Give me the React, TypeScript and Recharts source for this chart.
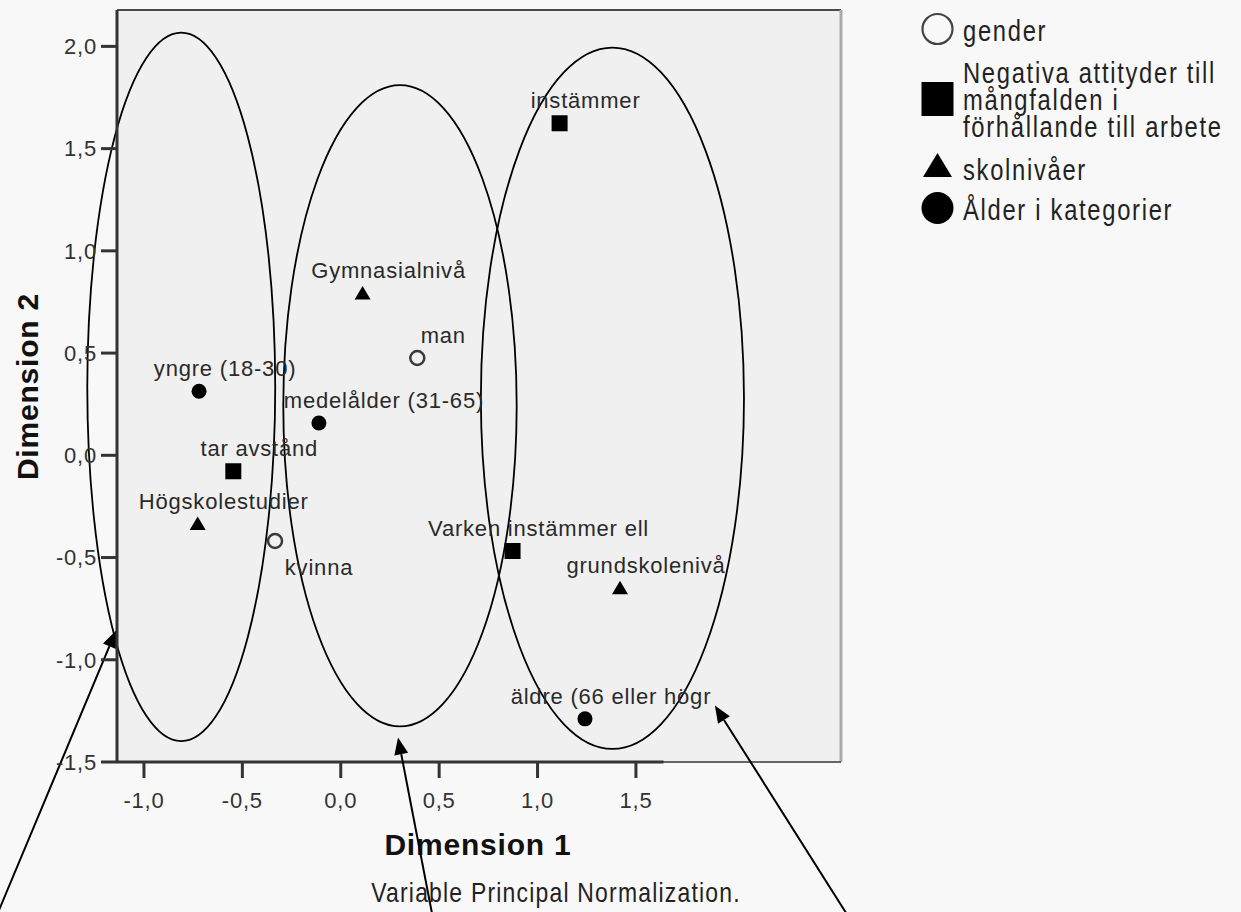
import { ScatterChart, Scatter, XAxis, YAxis, CartesianGrid, ReferenceArea, ReferenceLine } from 'recharts'

// plot window (Dimension 1 / Dimension 2)
const X_MIN = -1.137
const X_MAX = 2.542
const X_AXIS_END = 1.64
const Y_MIN = -1.5
const Y_MAX = 2.178
const X_TICKS = [-1, -0.5, 0, 0.5, 1, 1.5]
const Y_TICKS = [-1.5, -1, -0.5, 0, 0.5, 1, 1.5, 2]

// category points
const genderNames = ['man', 'kvinna']
const genderX = [0.389, -0.334]
const genderY = [0.476, -0.419]

const attitudeNames = ['instämmer', 'tar avstånd', 'Varken instämmer ell']
const attitudeX = [1.112, -0.546, 0.873]
const attitudeY = [1.624, -0.078, -0.468]

const schoolNames = ['Gymnasialnivå', 'Högskolestudier', 'grundskolenivå']
const schoolX = [0.111, -0.727, 1.419]
const schoolY = [0.794, -0.334, -0.648]

const ageNames = ['yngre (18-30)', 'medelålder (31-65)', 'äldre (66 eller högr']
const ageX = [-0.72, -0.111, 1.241]
const ageY = [0.313, 0.158, -1.289]

// hand-drawn group ellipses (bounding boxes in data units)
const ellipseLeft = [-1.288, -0.292, 0.712]
const ellipseRight = [-0.333, 0.894, 2.049]
const ellipseTop = [2.067, 1.811, 1.994]
const ellipseBottom = [-1.398, -1.326, -1.436]

// arrows pointing at the ellipses
const arrowFromX = [-1.742, 0.463, 2.567]
const arrowFromY = [-2.237, -2.237, -2.237]
const arrowToX = [-1.142, 0.291, 1.901]
const arrowToY = [-0.857, -1.38, -1.224]

const legendLabels = [
  ['gender'],
  ['Negativa attityder till', 'mångfalden i', 'förhållande till arbete'],
  ['skolnivåer'],
  ['Ålder i kategorier'],
]

const SANS = '"Liberation Sans", Arial, sans-serif'
// no narrow face installed: squeeze Liberation Sans horizontally instead
const NARROW_SCALE = 0.82

const toPoints = (names: string[], xs: number[], ys: number[]) =>
  names.map((name, i) => ({ name, x: xs[i], y: ys[i] }))

const genderData = toPoints(genderNames, genderX, genderY)
const attitudeData = toPoints(attitudeNames, attitudeX, attitudeY)
const schoolData = toPoints(schoolNames, schoolX, schoolY)
const ageData = toPoints(ageNames, ageX, ageY)

const fmt = (v: number) => v.toFixed(1).replace('.', ',')

const LABEL_SHIFT: Record<string, [number, number]> = {
  kvinna: [44, 34],
  'medelålder (31-65)': [65, -15],
}
const DEFAULT_SHIFT: [number, number] = [26, -15]

function PointLabel({ cx, cy, name }: { cx: number; cy: number; name: string }) {
  const [dx, dy] = LABEL_SHIFT[name] ?? DEFAULT_SHIFT
  return (
    <text x={cx + dx} y={cy + dy} textAnchor="middle" fontFamily={SANS} fontSize={22}
      letterSpacing={0.8} fill="#2a2a2a">
      {name}
    </text>
  )
}

type Kind = 'ring' | 'square' | 'triangle' | 'dot'

function markerShape(kind: Kind) {
  return (p: any) => {
    const { cx, cy, payload } = p
    let m
    if (kind === 'ring') m = <circle cx={cx} cy={cy} r={7} fill="none" stroke="#3a3a3a" strokeWidth={2.5} />
    else if (kind === 'square') m = <rect x={cx - 8} y={cy - 8} width={16} height={16} fill="#000" />
    else if (kind === 'triangle')
      m = <polygon points={`${cx},${cy - 7} ${cx + 8},${cy + 6.5} ${cx - 8},${cy + 6.5}`} fill="#000" />
    else m = <circle cx={cx} cy={cy} r={7.5} fill="#000" />
    return (
      <g>
        {m}
        <PointLabel cx={cx} cy={cy} name={payload.name} />
      </g>
    )
  }
}

function Ring(p: any) {
  const { x, y, width, height } = p
  return (
    <ellipse cx={x + width / 2} cy={y + height / 2} rx={width / 2} ry={height / 2}
      fill="none" stroke="#000" strokeWidth={1.8} />
  )
}

function Arrow(p: any) {
  const { x1, y1, x2, y2 } = p
  const a = Math.atan2(y2 - y1, x2 - x1)
  const len = 17
  const half = 7
  const bx = x2 - len * Math.cos(a)
  const by = y2 - len * Math.sin(a)
  const pts = `${x2},${y2} ${bx + half * Math.sin(a)},${by - half * Math.cos(a)} ${bx - half * Math.sin(a)},${by + half * Math.cos(a)}`
  return (
    <g>
      <line x1={x1} y1={y1} x2={bx} y2={by} stroke="#000" strokeWidth={2} />
      <polygon points={pts} fill="#000" />
    </g>
  )
}

function NarrowText({ x, y, size, spacing, anchor, children }: any) {
  return (
    <text transform={`translate(${x},${y}) scale(${NARROW_SCALE},1)`} textAnchor={anchor ?? 'start'}
      fontFamily={SANS} fontSize={size} letterSpacing={spacing / NARROW_SCALE} fill="#222">
      {children}
    </text>
  )
}

function LegendMarker({ i }: { i: number }) {
  const cx = 937.5
  if (i === 0) return <circle cx={cx} cy={29} r={15} fill="none" stroke="#444" strokeWidth={2.2} />
  if (i === 1) return <rect x={cx - 16} y={82} width={32} height={34} fill="#000" />
  if (i === 2) return <polygon points={`${cx},153 ${cx + 14.5},177 ${cx - 14.5},177`} fill="#000" />
  return <circle cx={cx} cy={208} r={16} fill="#000" />
}

const LEGEND_BASELINES = [[40.5], [83, 110, 137], [180], [220]]

function Annotations() {
  return (
    <svg width={1241} height={912} style={{ position: 'absolute', left: 0, top: 0 }}>
      <text x={478} y={855} textAnchor="middle" fontFamily={SANS} fontWeight="bold" fontSize={30}
        letterSpacing={0.8} fill="#111">
        Dimension 1
      </text>
      <text transform="translate(38,386.5) rotate(-90)" textAnchor="middle" fontFamily={SANS}
        fontWeight="bold" fontSize={30} letterSpacing={0.8} fill="#111">
        Dimension 2
      </text>
      <NarrowText x={556} y={902} size={28} spacing={1.2} anchor="middle">
        Variable Principal Normalization.
      </NarrowText>
      {legendLabels.map((lines, i) => (
        <g key={i}>
          <LegendMarker i={i} />
          {lines.map((line, j) => (
            <NarrowText key={j} x={963} y={LEGEND_BASELINES[i][j]} size={29} spacing={1.7}>
              {line}
            </NarrowText>
          ))}
        </g>
      ))}
    </svg>
  )
}

const tickStyle = { fontSize: 22, fontFamily: SANS, fill: '#333', letterSpacing: 0.8 }

export default function App() {
  return (
    <div style={{ position: 'absolute', left: 0, top: 0, width: 1241, height: 912, background: '#f8f8f8', overflow: 'hidden' }}>
      <Annotations />
      <div style={{ position: 'absolute', left: 0, top: 0 }}>
        <ScatterChart width={1241} height={912} margin={{ top: 10, right: 400, bottom: 90, left: 17 }}>
          <CartesianGrid horizontal={false} vertical={false} fill="#f0f0f0" />
          <XAxis type="number" dataKey="x" domain={[X_MIN, X_MAX]} ticks={X_TICKS} allowDataOverflow
            height={60} interval={0} axisLine={false} tickLine={{ stroke: '#333', strokeWidth: 3 }}
            tickSize={16} tickMargin={14} tick={tickStyle} tickFormatter={fmt} />
          <YAxis type="number" dataKey="y" domain={[Y_MIN, Y_MAX]} ticks={Y_TICKS} allowDataOverflow
            width={100} interval={0} axisLine={{ stroke: '#333', strokeWidth: 3 }}
            tickLine={{ stroke: '#333', strokeWidth: 3 }} tickSize={16} tickMargin={4}
            tick={tickStyle} tickFormatter={fmt} />
          <ReferenceLine y={Y_MAX} stroke="#4a4a4a" strokeWidth={2} ifOverflow="visible" />
          <ReferenceLine x={X_MAX} stroke="#aaa" strokeWidth={3} ifOverflow="visible" />
          <ReferenceLine y={Y_MIN} stroke="#666" strokeWidth={2} ifOverflow="visible" />
          <ReferenceLine segment={[{ x: X_MIN, y: Y_MIN }, { x: X_AXIS_END, y: Y_MIN }]}
            stroke="#333" strokeWidth={3} ifOverflow="visible" />
          {ellipseLeft.map((_, i) => (
            <ReferenceArea key={`e${i}`} x1={ellipseLeft[i]} x2={ellipseRight[i]} y1={ellipseBottom[i]}
              y2={ellipseTop[i]} ifOverflow="visible" shape={Ring} />
          ))}
          <Scatter data={genderData} shape={markerShape('ring')} isAnimationActive={false} />
          <Scatter data={attitudeData} shape={markerShape('square')} isAnimationActive={false} />
          <Scatter data={schoolData} shape={markerShape('triangle')} isAnimationActive={false} />
          <Scatter data={ageData} shape={markerShape('dot')} isAnimationActive={false} />
          {arrowFromX.map((_, i) => (
            <ReferenceLine key={`a${i}`} ifOverflow="visible" shape={Arrow}
              segment={[{ x: arrowFromX[i], y: arrowFromY[i] }, { x: arrowToX[i], y: arrowToY[i] }]} />
          ))}
        </ScatterChart>
      </div>
    </div>
  )
}
